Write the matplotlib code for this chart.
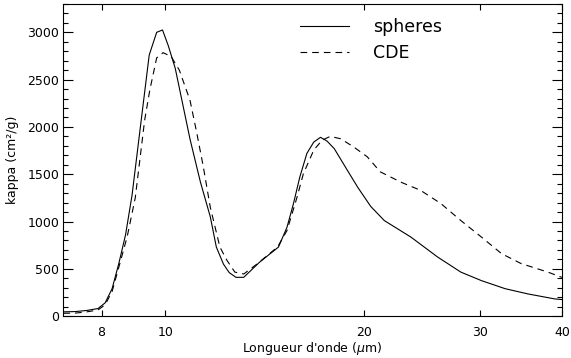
import matplotlib
matplotlib.use("Agg")
import matplotlib.pyplot as plt
from matplotlib.ticker import FixedLocator, FixedFormatter, MultipleLocator, NullLocator

# Wavelength (micron) and kappa (cm2/g)
wl_spheres = [7.0, 7.3, 7.6, 7.9, 8.1, 8.3, 8.5, 8.7, 8.9, 9.2, 9.45, 9.7, 9.9, 10.1, 10.35,
              10.9, 11.3, 11.7, 11.95, 12.25, 12.5, 12.8, 13.15, 13.9, 14.85, 15.3, 15.65,
              16.0, 16.4, 16.8, 17.2, 17.6, 18.05, 18.9, 19.6, 20.5, 21.5, 23.6, 25.9,
              28.1, 30.2, 32.8, 35.5, 39.0, 40.0]
kappa_spheres = [45, 48, 60, 80, 140, 290, 560, 860, 1280, 2100, 2760, 3000, 3025, 2860, 2620,
                 1870, 1420, 1050, 730, 550, 460, 410, 410, 570, 730, 940, 1190,
                 1470, 1720, 1840, 1890, 1850, 1770, 1540, 1360, 1160, 1010, 835, 625,
                 465, 375, 290, 235, 182, 175]

wl_cde = [7.0, 7.3, 7.6, 7.9, 8.1, 8.3, 8.5, 8.75, 9.0, 9.3, 9.47, 9.7, 9.92, 10.2, 10.5,
          10.9, 11.15, 11.42, 11.7, 12.1, 12.4, 12.75, 13.15, 13.8, 14.8, 15.3, 15.85,
          16.2, 16.8, 17.3, 17.8, 18.45, 19.3, 20.25, 21.2, 22.8, 24.4, 26.2, 28.1,
          30.2, 32.4, 34.7, 38.1, 40.0]
kappa_cde = [30, 32, 45, 65, 120, 260, 520, 840, 1250, 2070, 2390, 2730, 2785, 2745, 2600,
             2280, 1950, 1576, 1150, 730, 590, 465, 445, 555, 730, 905, 1260,
             1505, 1755, 1860, 1900, 1875, 1790, 1685, 1525, 1415, 1330, 1190, 1010,
             835, 660, 555, 465, 410]

xticks = [8, 10, 20, 30, 40]
xticklabels = ["8", "10", "20", "30", "40"]

fig = plt.figure(figsize=(5.71, 3.58), dpi=100)
ax = fig.add_axes([0.111, 0.117, 0.873, 0.872])

ax.plot(wl_spheres, kappa_spheres, color="black", lw=0.8, label="spheres")
ax.plot(wl_cde, kappa_cde, color="black", lw=0.8, linestyle=(0, (6, 4.5)), label="CDE")

ax.set_xscale("log")
ax.set_xlim(7, 40)
ax.set_ylim(0, 3300)

ax.xaxis.set_major_locator(FixedLocator(xticks))
ax.xaxis.set_major_formatter(FixedFormatter(xticklabels))
ax.xaxis.set_minor_locator(NullLocator())
ax.yaxis.set_major_locator(MultipleLocator(500))
ax.yaxis.set_minor_locator(MultipleLocator(100))

ax.tick_params(axis="both", which="both", direction="in", top=True, right=True,
               labelsize=9, width=0.8)
ax.tick_params(axis="x", which="major", length=4.5, pad=7)
ax.tick_params(axis="y", which="major", length=7, pad=3)
ax.tick_params(axis="y", which="minor", length=3.5)
for s in ax.spines.values():
    s.set_linewidth(0.8)

ax.set_xlabel(r"Longueur d'onde ($\mu$m)", fontsize=9, labelpad=1)
ax.set_ylabel("kappa (cm²/g)", fontsize=9, labelpad=6)

ax.legend(loc="upper left", bbox_to_anchor=(0.444, 1.006), frameon=False, fontsize=12.5,
          handlelength=2.8, handletextpad=1.4, labelspacing=0.5)

fig.savefig("out.png", dpi=100)
